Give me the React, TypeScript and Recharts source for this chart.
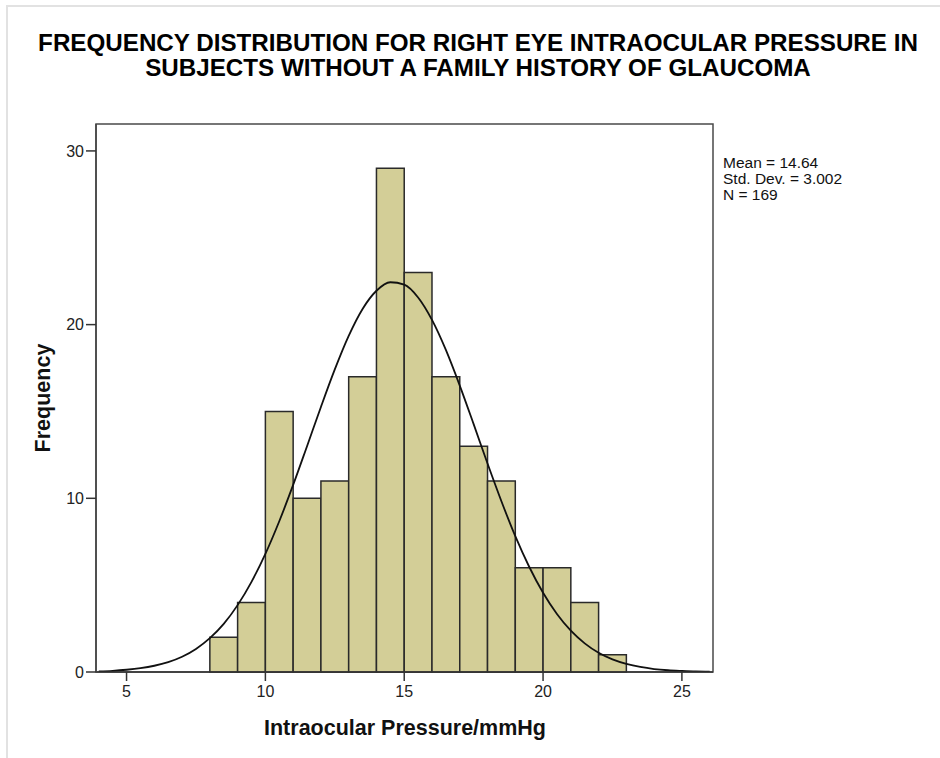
import React from 'react';
import { ComposedChart, Line, XAxis, YAxis, ReferenceArea } from 'recharts';

// histogram bins (lower edge, width 1) and counts
const binStarts = [8, 9, 10, 11, 12, 13, 14, 15, 16, 17, 18, 19, 20, 21, 22];
const binCounts = [2, 4, 15, 10, 11, 17, 29, 23, 17, 13, 11, 6, 6, 4, 1];

// fitted normal curve, every half unit
const curveX = [
  4, 4.5, 5, 5.5, 6, 6.5, 7, 7.5, 8, 8.5, 9, 9.5, 10, 10.5, 11, 11.5, 12, 12.5, 13, 13.5, 14, 14.5, 15,
  15.5, 16, 16.5, 17, 17.5, 18, 18.5, 19, 19.5, 20, 20.5, 21, 21.5, 22, 22.5, 23, 23.5, 24, 24.5, 25, 25.5, 26,
];
const curveY = [
  0.04, 0.07, 0.13, 0.22, 0.36, 0.57, 0.88, 1.33, 1.95, 2.77, 3.85, 5.19, 6.8, 8.68, 10.77, 13.0, 15.26, 17.42,
  19.35, 20.9, 21.95, 22.44, 22.3, 21.56, 20.27, 18.54, 16.49, 14.27, 12.0, 9.83, 7.82, 6.06, 4.56, 3.34, 2.38,
  1.65, 1.11, 0.73, 0.47, 0.29, 0.17, 0.1, 0.06, 0.03, 0.02,
];

const xTicks = [5, 10, 15, 20, 25];
const yTicks = [0, 10, 20, 30];
const statLines = ['Mean = 14.64', 'Std. Dev. = 3.002', 'N = 169'];

const X_MIN = 3.9;
const X_MAX = 26.12;
const Y_MAX = 31.55;

const FONT = '"Liberation Sans", Arial, sans-serif';

export default function App() {
  const curve = curveX.map((x, i) => ({ x, y: curveY[i] }));

  return (
    <div
      style={{
        position: 'absolute',
        left: 0,
        top: 0,
        width: 940,
        height: 758,
        overflow: 'hidden',
        background: '#fff',
        fontFamily: FONT,
      }}
    >
      <div
        style={{
          position: 'absolute',
          left: 6,
          top: 5,
          width: 960,
          height: 800,
          borderTop: '2px solid #e2e2e2',
          borderLeft: '2px solid #e2e2e2',
        }}
      />
      <div
        style={{
          position: 'absolute',
          left: 0,
          top: 30,
          width: 956,
          textAlign: 'center',
          fontSize: 24.2,
          lineHeight: '25px',
          fontWeight: 'bold',
          color: '#000',
        }}
      >
        FREQUENCY DISTRIBUTION FOR RIGHT EYE INTRAOCULAR PRESSURE IN
        <br />
        SUBJECTS WITHOUT A FAMILY HISTORY OF GLAUCOMA
      </div>

      <div style={{ position: 'absolute', left: 0, top: 0 }}>
        <ComposedChart
          width={940}
          height={758}
          data={curve}
          margin={{ top: 124, right: 227, bottom: 56, left: 56 }}
        >
          <XAxis
            dataKey="x"
            type="number"
            domain={[X_MIN, X_MAX]}
            ticks={xTicks}
            allowDataOverflow
            height={30}
            tickSize={9}
            tickMargin={5}
            fontSize={16}
            axisLine={{ stroke: '#333', strokeWidth: 1.5 }}
            tickLine={{ stroke: '#333', strokeWidth: 1.5 }}
            tick={{ fill: '#222', fontSize: 16, fontFamily: FONT }}
          />
          <YAxis
            type="number"
            domain={[0, Y_MAX]}
            ticks={yTicks}
            allowDataOverflow
            width={40}
            tickSize={10}
            tickMargin={2}
            fontSize={16}
            axisLine={{ stroke: '#444', strokeWidth: 1.5 }}
            tickLine={{ stroke: '#333', strokeWidth: 1.5 }}
            tick={{ fill: '#222', fontSize: 16, fontFamily: FONT }}
          />
          <ReferenceArea
            x1={X_MIN}
            x2={X_MAX}
            y1={0}
            y2={Y_MAX}
            fill="#fff"
            fillOpacity={0}
            stroke="#4a4a4a"
            strokeWidth={1.5}
            ifOverflow="visible"
          />
          {binStarts.map((b, i) => (
            <ReferenceArea
              key={b}
              x1={b}
              x2={b + 1}
              y1={0}
              y2={binCounts[i]}
              fill="#d3ce97"
              fillOpacity={1}
              stroke="#2a2a2a"
              strokeWidth={1.5}
              ifOverflow="visible"
            />
          ))}
          <Line
            dataKey="y"
            type="monotone"
            stroke="#111"
            strokeWidth={1.8}
            dot={false}
            activeDot={false}
            isAnimationActive={false}
          />
        </ComposedChart>
      </div>

      <div
        style={{
          position: 'absolute',
          left: 723,
          top: 155,
          fontSize: 15.5,
          lineHeight: '16px',
          color: '#111',
        }}
      >
        {statLines.map((s) => (
          <div key={s}>{s}</div>
        ))}
      </div>

      <div
        style={{
          position: 'absolute',
          left: 43 - 80,
          top: 398 - 14,
          width: 160,
          height: 28,
          lineHeight: '28px',
          textAlign: 'center',
          transform: 'rotate(-90deg)',
          fontSize: 21.5,
          fontWeight: 'bold',
          color: '#111',
        }}
      >
        Frequency
      </div>

      <div
        style={{
          position: 'absolute',
          left: 405 - 200,
          top: 714,
          width: 400,
          textAlign: 'center',
          fontSize: 21.5,
          lineHeight: '28px',
          fontWeight: 'bold',
          color: '#111',
        }}
      >
        Intraocular Pressure/mmHg
      </div>
    </div>
  );
}
